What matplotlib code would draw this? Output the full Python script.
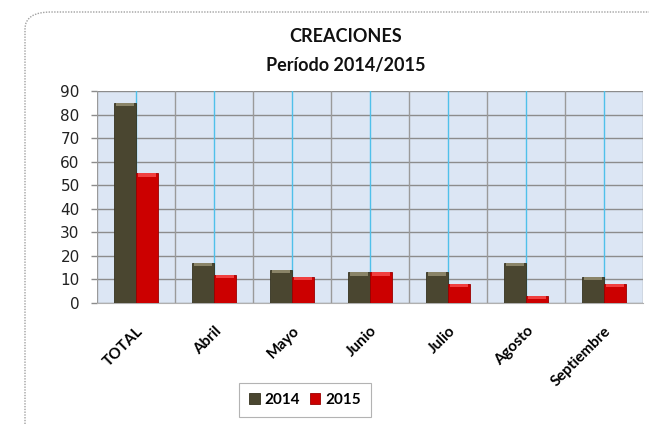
import numpy as np
import matplotlib.pyplot as plt
from matplotlib.patches import FancyBboxPatch


# data
categories = ["TOTAL", "Abril", "Mayo", "Junio", "Julio", "Agosto", "Septiembre"]
values_2014 = [85, 17, 14, 13, 13, 17, 11]
values_2015 = [55, 12, 11, 13, 8, 3, 8]
series_names = ["2014", "2015"]
yticks = [0, 10, 20, 30, 40, 50, 60, 70, 80, 90]

col_2014 = "#4a4630"
col_2015 = "#cc0000"
top_2014 = "#8a8468"
top_2015 = "#f04040"

plt.rcParams["font.family"] = ["Lato", "DejaVu Sans"]

fig = plt.figure(figsize=(6.49, 4.24), dpi=100)

# rounded chart frame
frame_top = 1 - 12 / 424
frame = FancyBboxPatch((25 / 649, -0.05), 1.1, frame_top + 0.05,
                       boxstyle="round,pad=0,rounding_size=0.04",
                       transform=fig.transFigure, facecolor="none",
                       edgecolor="#a0a0a0", linewidth=1.0, linestyle=(0, (1, 1)),
                       zorder=-1)
fig.patches.append(frame)

ax = fig.add_axes([97 / 649, 1 - 303 / 424, 546 / 649, 212 / 424])
ax.set_zorder(2)
ax.set_facecolor("#dce6f4")

x = np.arange(len(categories))
w = 0.28

ax.bar(x - w / 2, values_2014, w, color=col_2014, edgecolor="#35321f",
       linewidth=0.6, zorder=3, label=series_names[0])
ax.bar(x + w / 2, values_2015, w, color=col_2015, edgecolor="#9a0000",
       linewidth=0.6, zorder=3, label=series_names[1])

# bevel highlight on top of each bar
cap = 1.4
ax.bar(x - w / 2, [cap] * len(x), w * 0.8,
       bottom=[v - cap for v in values_2014], color=top_2014,
       linewidth=0, zorder=4)
ax.bar(x + w / 2, [cap] * len(x), w * 0.8,
       bottom=[v - cap for v in values_2015], color=top_2015,
       linewidth=0, zorder=4)

ax.set_xlim(-0.5, len(categories) - 0.5)
ax.set_ylim(0, 90)
ax.set_yticks(yticks, [str(v) for v in yticks], fontfamily="DejaVu Sans",
              fontsize=11, color="#222222")

# gray lines at category boundaries, cyan lines at category centres
for b in np.arange(-0.5, len(categories), 1.0):
    ax.axvline(b, color="#9a9a9a", linewidth=1.0, zorder=1)
for c in x:
    ax.axvline(c, color="#4fc0ea", linewidth=1.0, zorder=1)
ax.yaxis.grid(True, color="#8c8c8c", linewidth=1.0, zorder=1)
ax.set_axisbelow(True)

for side in ["top", "right", "left"]:
    ax.spines[side].set_visible(False)
ax.spines["bottom"].set_color("#b0b0b0")

ax.tick_params(axis="y", length=4.5, width=1.0, color="#8c8c8c", pad=8)
ax.set_xticks(x)
ax.set_xticklabels(categories, rotation=45, ha="right", rotation_mode="anchor",
                   fontsize=11, fontweight="bold")
ax.tick_params(axis="x", length=0, pad=15)

fig.text(0.533, 1 - 36 / 424, "CREACIONES", ha="center", va="center",
         fontsize=13, fontweight="bold", color="#111111")
fig.text(0.533, 1 - 65 / 424, "Período 2014/2015", ha="center", va="center",
         fontsize=13, fontweight="bold", color="#111111")

leg = fig.legend(loc="center", bbox_to_anchor=(305 / 649, 1 - 400 / 424),
                 ncol=2, frameon=True, fancybox=False,
                 prop={"weight": "bold", "size": 11},
                 handlelength=0.7, handleheight=0.7, handletextpad=0.35,
                 columnspacing=0.6, borderpad=0.65)
leg.get_frame().set_edgecolor("#a0a0a0")
leg.get_frame().set_linewidth(0.8)

fig.savefig("out.png", dpi=100)
